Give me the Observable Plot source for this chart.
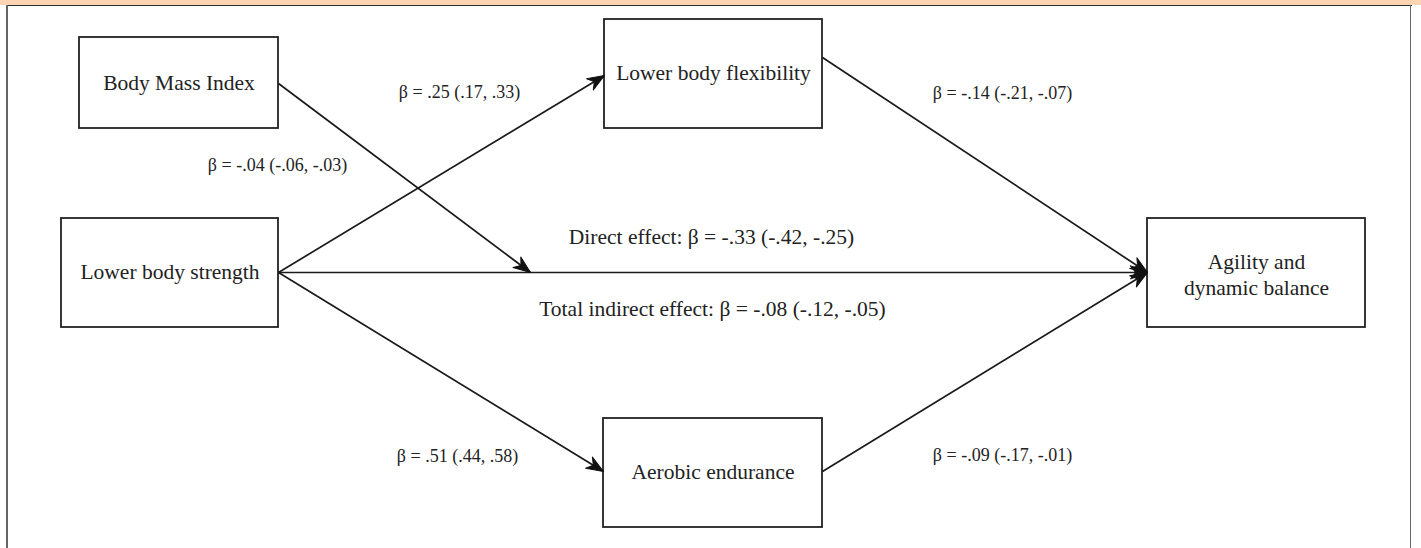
<!DOCTYPE html>
<html>
<head>
<meta charset="utf-8">
<script src="https://cdn.jsdelivr.net/npm/d3@7"></script>
<script src="https://cdn.jsdelivr.net/npm/@observablehq/plot@0.6"></script>
<style>
  html, body { margin: 0; padding: 0; background: #fff; }
  #wrap { position: relative; width: 1421px; height: 548px; overflow: hidden; }
  #wrap svg { position: absolute; left: 0; top: 0; }
  .band { position: absolute; left: 0; top: 0; width: 1421px; height: 5px; background: #fdd5b3; }
  .ftop { position: absolute; left: 6px; top: 4.5px; width: 1406px; height: 1.5px; background: #2a2a2a; }
  .fleft { position: absolute; left: 6px; top: 5px; width: 2px; height: 543px; background: #666; }
  .fright { position: absolute; left: 1409.5px; top: 5px; width: 1.8px; height: 543px; background: #666; }
</style>
</head>
<body>
<div id="wrap">
  <div class="band"></div>
</div>
<script>
// ---- data ----
const nodes = ["Body Mass Index", "Lower body strength", "Lower body flexibility", "Aerobic endurance", "Agility and dynamic balance"];
const nodeLines = [["Body Mass Index"], ["Lower body strength"], ["Lower body flexibility"], ["Aerobic endurance"], ["Agility and", "dynamic balance"]];

const pathNames = ["BMI moderation", "Strength → Flexibility", "Strength → Aerobic", "Flexibility → Agility", "Aerobic → Agility", "Direct effect", "Total indirect effect"];
const pathFrom  = ["Body Mass Index", "Lower body strength", "Lower body strength", "Lower body flexibility", "Aerobic endurance", "Lower body strength", null];
const pathTo    = ["Direct path", "Lower body flexibility", "Aerobic endurance", "Agility and dynamic balance", "Agility and dynamic balance", "Agility and dynamic balance", null];
const betas     = [-0.04, 0.25, 0.51, -0.14, -0.09, -0.33, -0.08];
const ciLow     = [-0.06, 0.17, 0.44, -0.21, -0.17, -0.42, -0.12];
const ciHigh    = [-0.03, 0.33, 0.58, -0.07, -0.01, -0.25, -0.05];
const prefixes  = ["", "", "", "", "", "Direct effect: ", "Total indirect effect: "];

// ---- layout (pixel space of the diagram) ----
const nodeBox = {
  "Body Mass Index":            {x0: 79,   x1: 278,  y0: 37,  y1: 128, ty: 83},
  "Lower body strength":        {x0: 61,   x1: 278,  y0: 218, y1: 327, ty: 272},
  "Lower body flexibility":     {x0: 604,  x1: 822,  y0: 19,  y1: 128, ty: 73},
  "Aerobic endurance":          {x0: 603,  x1: 822,  y0: 418, y1: 527, ty: 472},
  "Agility and dynamic balance":{x0: 1147, x1: 1365, y0: 218, y1: 327, ty: 275}
};
const pathGeom = [
  {x1: 278, y1: 83,  x2: 530,  y2: 272, lx: 277,  ly: 165},
  {x1: 278, y1: 272, x2: 604,  y2: 75,  lx: 459,  ly: 92},
  {x1: 278, y1: 272, x2: 603,  y2: 471, lx: 457,  ly: 456},
  {x1: 822, y1: 57,  x2: 1147, y2: 272, lx: 1002, ly: 93},
  {x1: 822, y1: 471, x2: 1147, y2: 272, lx: 1002, ly: 455},
  {x1: 278, y1: 272, x2: 1147, y2: 272, lx: 711,  ly: 237},
  {lx: 712, ly: 309}
];

const fmt = v => (v < 0 ? "-" : "") + Math.abs(v).toFixed(2).replace(/^0/, "");

const boxes = nodes.map((n, i) => ({name: n, lines: nodeLines[i], ...nodeBox[n]}));
const boxText = boxes.flatMap(b => b.lines.map((t, j) => ({
  text: t, x: (b.x0 + b.x1) / 2, y: b.ty + (j - (b.lines.length - 1) / 2) * 26
})));
const paths = pathNames.map((p, i) => ({
  name: p, from: pathFrom[i], to: pathTo[i],
  label: `${prefixes[i]}β = ${fmt(betas[i])} (${fmt(ciLow[i])}, ${fmt(ciHigh[i])})`,
  ...pathGeom[i]
}));
const edges = paths.filter(p => p.from);
edges.forEach(e => { e.rot = Math.atan2(e.x2 - e.x1, -(e.y2 - e.y1)) * 180 / Math.PI; });

const head = {
  draw(ctx, l, r) {
    const w = 6.5;
    ctx.moveTo(0, -l);
    ctx.lineTo(w, 0);
    ctx.lineTo(0, -l * 0.3);
    ctx.lineTo(-w, 0);
    ctx.closePath();
  }
};

const font = "'Liberation Serif', 'Times New Roman', serif";

const chart = Plot.plot({
  width: 1421,
  height: 548,
  margin: 0,
  x: {domain: [0, 1421], range: [0, 1421], axis: null},
  y: {domain: [0, 548], range: [0, 548], axis: null},
  style: {fontFamily: font, background: "transparent"},
  marks: [
    Plot.rect(boxes, {x1: "x0", x2: "x1", y1: "y0", y2: "y1", fill: "white", stroke: "#222", strokeWidth: 1.8}),
    Plot.link(edges, {x1: "x1", y1: "y1", x2: "x2", y2: "y2", stroke: "#1a1a1a", strokeWidth: 1.7}),
    Plot.vector(edges, {x: "x2", y: "y2", rotate: "rot", length: 17, anchor: "end", shape: head, fill: "#111", stroke: "#111", strokeWidth: 1}),
    Plot.text(boxText, {x: "x", y: "y", text: "text", fontSize: 21.5, fill: "#222", fontFamily: font}),
    Plot.text(paths.slice(0, 5), {x: "lx", y: "ly", text: "label", fontSize: 18, fill: "#222", fontFamily: font}),
    Plot.text(paths.slice(5), {x: "lx", y: "ly", text: "label", fontSize: 21.5, fill: "#222", fontFamily: font})
  ]
});

const wrap = document.getElementById("wrap");
wrap.insertBefore(chart, wrap.firstChild);
["ftop", "fleft", "fright"].forEach(c => { const d = document.createElement("div"); d.className = c; wrap.appendChild(d); });
</script>
</body>
</html>
